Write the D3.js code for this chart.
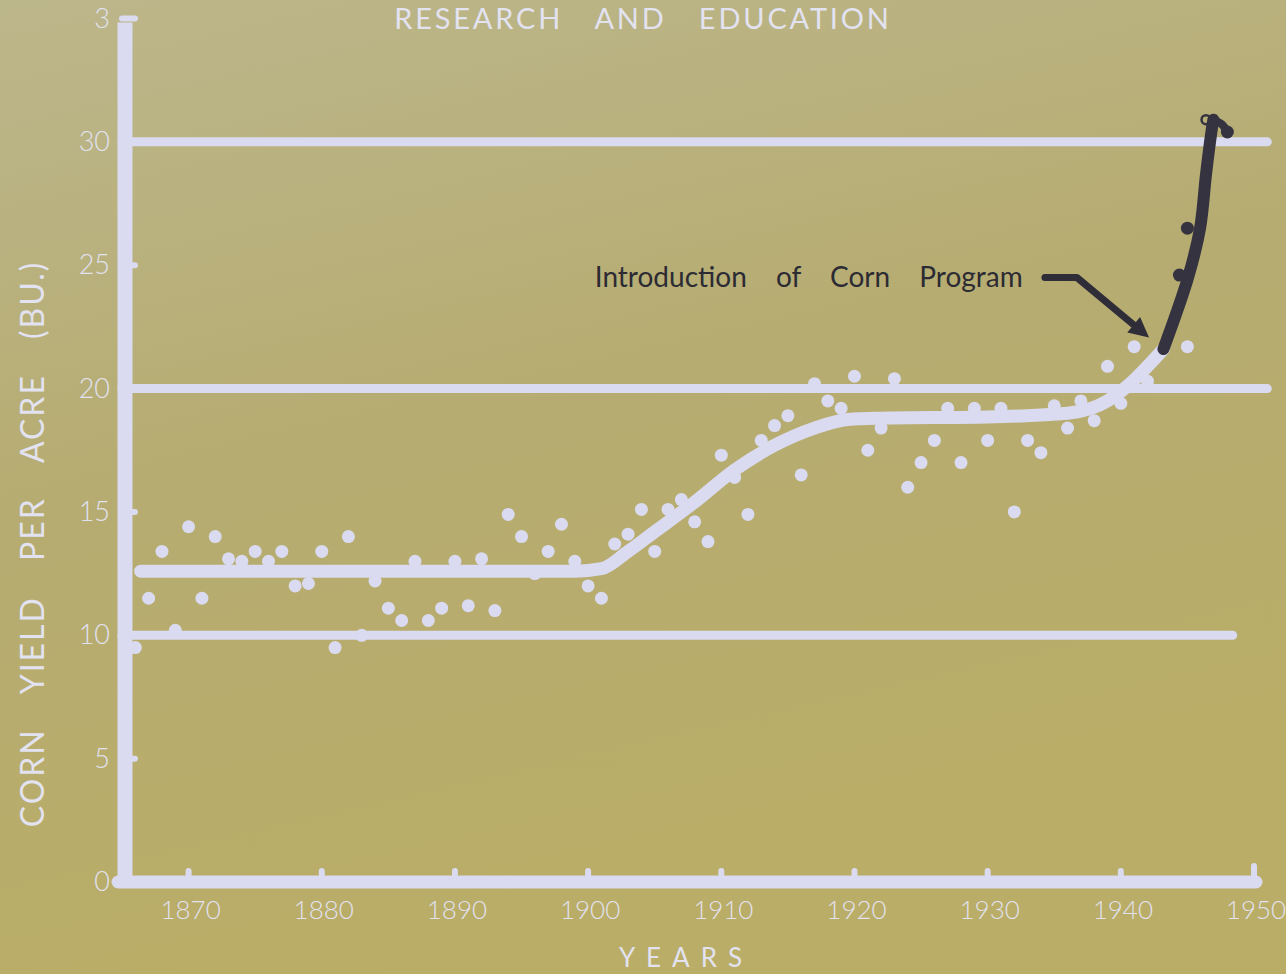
<!DOCTYPE html>
<html><head><meta charset="utf-8">
<script src="https://cdn.jsdelivr.net/npm/d3@7"></script>
<style>html,body{margin:0;padding:0;background:#b6ae74;} svg{display:block}</style>
</head><body><svg id="c" width="1286" height="974"></svg>
<script>
// ---------- DATA ----------
const whiteYears = [1866,1867,1868,1869,1870,1871,1872,1873,1874,1875,1876,1877,1878,1879,1880,1881,1882,1883,1884,1885,
  1886,1887,1888,1889,1890,1891,1892,1893,1894,1895,1896,1897,1898,1899,1900,1901,1902,1903,1904,1905,
  1906,1907,1908,1909,1910,1911,1912,1913,1914,1915,1916,1917,1918,1919,1920,1921,1922,1923,1924,1925,
  1926,1927,1928,1929,1930,1931,1932,1933,1934,1935,1936,1937,1938,1939,1940,1941,1942,1945];
const whiteValues = [9.5,11.5,13.4,10.2,14.4,11.5,14.0,13.1,13.0,13.4,13.0,13.4,12.0,12.1,13.4,9.5,14.0,10.0,12.2,11.1,
  10.6,13.0,10.6,11.1,13.0,11.2,13.1,11.0,14.9,14.0,12.5,13.4,14.5,13.0,12.0,11.5,13.7,14.1,15.1,13.4,
  15.1,15.5,14.6,13.8,17.3,16.4,14.9,17.9,18.5,18.9,16.5,20.2,19.5,19.2,20.5,17.5,18.4,20.4,16.0,17.0,
  17.9,19.2,17.0,19.2,17.9,19.2,15.0,17.9,17.4,19.3,18.4,19.5,18.7,20.9,19.4,21.7,20.3,21.7];

const trendYears  = [1866.4,1880,1890,1899,1901,1903,1905,1908,1911,1914,1917,1919.5,1922,1930,1936,1939,1940.7,1942,1943.2];
const trendValues = [12.6,12.6,12.6,12.6,12.7,13.4,14.2,15.4,16.7,17.7,18.4,18.75,18.8,18.85,19.0,19.5,20.2,20.9,21.6];

const programLineYears  = [1943.2,1945.05,1945.95,1946.4,1946.8,1946.95];
const programLineValues = [21.6,24.5,26.5,28.7,30.4,30.9];
const programDotYears   = [1944.4,1945,1948];
const programDotValues  = [24.6,26.5,30.4];
const programRingYears  = [1947];
const programRingValues = [30.9];

const gridValues   = [10,20,30];
const gridEndYears = [1948.4,1951,1951];
const yMinorTicks  = [5,15,25,35];
const yTickValues  = [0,5,10,15,20,25,30,35];
const yTickLabels  = ["0","5","10","15","20","25","30","3"];
const xTickValues  = [1870,1880,1890,1900,1910,1920,1930,1940,1950];
const xTickLabels  = ["1870","1880","1890","1900","1910","1920","1930","1940","1950"];

const titleText = "RESEARCH AND EDUCATION";
const xTitle = "YEARS";
const yTitle = "CORN YIELD PER ACRE (BU.)";
const noteText = "Introduction of Corn Program";
const noteYear = 1900.5, noteValue = 24.1;
const arrowYears  = [1934.3,1936.7,1941.6];
const arrowValues = [24.5,24.5,22.3];

// ---------- DRAW ----------
const svg = d3.select("#c");
const W = 1286, H = 974;
const x = d3.scaleLinear().domain([1865,1950]).range([122,1254]);
const y = d3.scaleLinear().domain([0,35]).range([882,18.5]);

const LINE = "#dadaf0", TXT = "#e2e2f0", DARK = "#35333f";
const defs = svg.append("defs");
const g1 = defs.append("linearGradient").attr("id","bg").attr("x1","0").attr("y1","0").attr("x2","0.3").attr("y2","1");
g1.append("stop").attr("offset","0").attr("stop-color","#bcb68b");
g1.append("stop").attr("offset","0.5").attr("stop-color","#b6ac71");
g1.append("stop").attr("offset","1").attr("stop-color","#baad67");
svg.append("rect").attr("width",W).attr("height",H).attr("fill","url(#bg)");

const font = "Lato, 'Open Sans', sans-serif";

// title
svg.append("text").attr("x",643).attr("y",29).attr("text-anchor","middle")
  .attr("font-family",font).attr("font-size",29).attr("fill",TXT)
  .attr("letter-spacing",2.8).attr("word-spacing",22).text(titleText);

// grid lines
svg.append("g").selectAll("line").data(gridValues).join("line")
  .attr("x1",x(1865)).attr("x2",(d,i)=>x(gridEndYears[i]))
  .attr("y1",d=>y(d)).attr("y2",d=>y(d))
  .attr("stroke",LINE).attr("stroke-width",9).attr("stroke-linecap","round");

// minor y ticks (stubs to the right)
svg.append("g").selectAll("line").data(yMinorTicks).join("line")
  .attr("x1",x(1865)).attr("x2",x(1865)+13)
  .attr("y1",d=>y(d)).attr("y2",d=>y(d))
  .attr("stroke",LINE).attr("stroke-width",6).attr("stroke-linecap","round");

// x ticks (stubs upward)
svg.append("g").selectAll("line").data(xTickValues).join("line")
  .attr("x1",d=>x(d)).attr("x2",d=>x(d))
  .attr("y1",y(0)).attr("y2",(d,i)=> y(0) - (d===1950?16:11))
  .attr("stroke",LINE).attr("stroke-width",6).attr("stroke-linecap","round");

// axes
svg.append("line").attr("x1",125).attr("x2",125).attr("y1",y(35)+4).attr("y2",y(0)+5)
  .attr("stroke",LINE).attr("stroke-width",15);
svg.append("line").attr("x1",118).attr("x2",x(1950)+2).attr("y1",y(0)).attr("y2",y(0))
  .attr("stroke",LINE).attr("stroke-width",13).attr("stroke-linecap","round");

// y tick labels
svg.append("g").selectAll("text").data(yTickValues).join("text")
  .attr("x",110).attr("y",d=>y(d)+9).attr("text-anchor","end")
  .attr("font-family",font).attr("font-size",27).attr("font-weight",300).attr("fill",TXT)
  .text((d,i)=>yTickLabels[i]);

// x tick labels
svg.append("g").selectAll("text").data(xTickValues).join("text")
  .attr("x",d=>x(d)+2).attr("y",919).attr("text-anchor","middle")
  .attr("font-family",font).attr("font-size",26).attr("font-weight",300).attr("fill",TXT)
  .text((d,i)=>xTickLabels[i]);

// axis titles
svg.append("text").attr("x",686).attr("y",967).attr("text-anchor","middle")
  .attr("font-family",font).attr("font-size",26).attr("fill",TXT).attr("letter-spacing",11)
  .text(xTitle);
svg.append("text").attr("transform","translate(44,544) rotate(-90)").attr("text-anchor","middle")
  .attr("font-family",font).attr("font-size",32).attr("fill",TXT).attr("word-spacing",25).attr("letter-spacing",2)
  .text(yTitle);

// trend line
const line = d3.line().x(d=>x(d[0])).y(d=>y(d[1])).curve(d3.curveMonotoneX);
svg.append("path").datum(trendYears.map((t,i)=>[t,trendValues[i]]))
  .attr("d",line).attr("fill","none").attr("stroke",LINE).attr("stroke-width",13).attr("stroke-linecap","round");

// white dots
svg.append("g").selectAll("circle").data(whiteYears.map((t,i)=>[t,whiteValues[i]])).join("circle")
  .attr("cx",d=>x(d[0])).attr("cy",d=>y(d[1])).attr("r",6.5).attr("fill",LINE);

// program line
const pline = d3.line().x(d=>x(d[0])).y(d=>y(d[1])).curve(d3.curveCatmullRom);
svg.append("path").datum(programLineYears.map((t,i)=>[t,programLineValues[i]]))
  .attr("d",pline).attr("fill","none").attr("stroke",DARK).attr("stroke-width",12).attr("stroke-linecap","round");
svg.append("path").datum([[1946.95,30.9],[1947.6,30.7],[1948,30.4]])
  .attr("d",pline).attr("fill","none").attr("stroke",DARK).attr("stroke-width",8).attr("stroke-linecap","round");
svg.append("g").selectAll("circle").data(programDotYears.map((t,i)=>[t,programDotValues[i]])).join("circle")
  .attr("cx",d=>x(d[0])).attr("cy",d=>y(d[1])).attr("r",6.5).attr("fill",DARK);
svg.append("g").selectAll("circle").data(programRingYears.map((t,i)=>[t,programRingValues[i]])).join("circle")
  .attr("cx",d=>x(d[0])-8).attr("cy",d=>y(d[1])).attr("r",4.5).attr("fill","none").attr("stroke",DARK).attr("stroke-width",2.5);

// annotation
svg.append("text").attr("x",x(noteYear)).attr("y",y(noteValue))
  .attr("font-family",font).attr("font-size",28).attr("fill","#2c2b33").attr("word-spacing",22)
  .text(noteText);
const ap = arrowYears.map((t,i)=>[x(t),y(arrowValues[i])]);
svg.append("path").attr("d",d3.line()(ap)).attr("fill","none").attr("stroke","#2e2d38")
  .attr("stroke-width",7).attr("stroke-linejoin","round").attr("stroke-linecap","round");
// arrowhead
const [p1,p2] = [ap[1],ap[2]];
const ang = Math.atan2(p2[1]-p1[1],p2[0]-p1[0]);
const tip = [p2[0]+Math.cos(ang)*9, p2[1]+Math.sin(ang)*9];
const hl = 20, hw = 10;
const base = [tip[0]-Math.cos(ang)*hl, tip[1]-Math.sin(ang)*hl];
const nx = -Math.sin(ang), ny = Math.cos(ang);
svg.append("path").attr("d",`M${tip}L${base[0]+nx*hw},${base[1]+ny*hw}L${base[0]-nx*hw},${base[1]-ny*hw}Z`).attr("fill","#2e2d38");
</script></body></html>
